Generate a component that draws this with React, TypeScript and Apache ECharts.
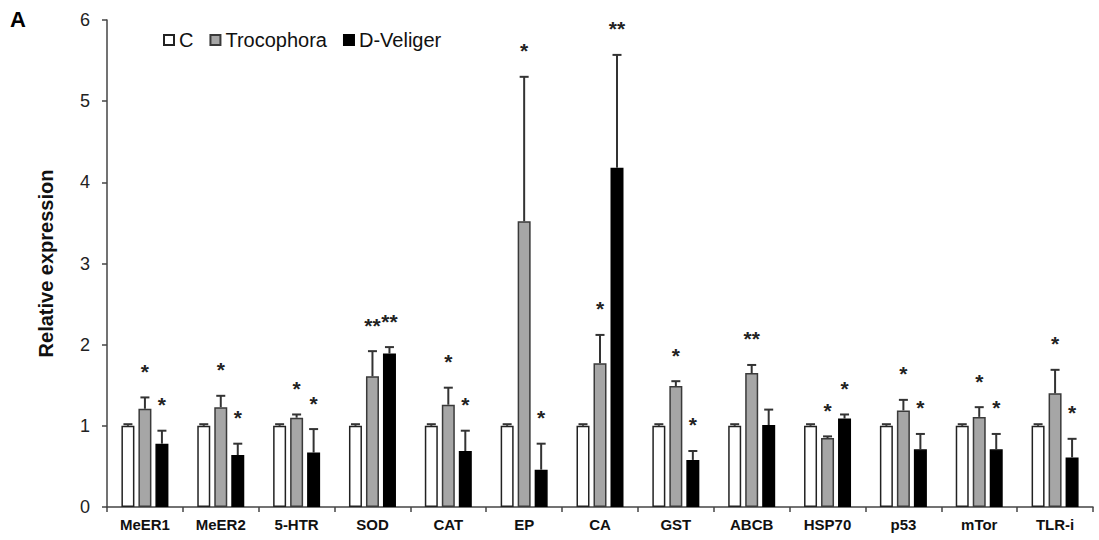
import React, { useEffect, useRef } from "react";
import * as echarts from "echarts";

const categories = ["MeER1", "MeER2", "5-HTR", "SOD", "CAT", "EP", "CA", "GST", "ABCB", "HSP70", "p53", "mTor", "TLR-i"];
const seriesNames = ["C", "Trocophora", "D-Veliger"];
const cMean = [1, 1, 1, 1, 1, 1, 1, 1, 1, 1, 1, 1, 1];
const cSd = [0.02, 0.02, 0.02, 0.02, 0.02, 0.02, 0.02, 0.02, 0.02, 0.02, 0.02, 0.02, 0.02];
const trocoMean = [1.21, 1.23, 1.1, 1.61, 1.26, 3.52, 1.77, 1.49, 1.65, 0.85, 1.19, 1.11, 1.4];
const trocoSd = [0.14, 0.14, 0.04, 0.31, 0.21, 1.78, 0.35, 0.06, 0.1, 0.02, 0.13, 0.12, 0.29];
const velMean = [0.78, 0.64, 0.67, 1.89, 0.69, 0.46, 4.18, 0.58, 1.01, 1.09, 0.71, 0.71, 0.61];
const velSd = [0.16, 0.14, 0.29, 0.08, 0.25, 0.32, 1.39, 0.11, 0.19, 0.05, 0.19, 0.19, 0.23];
const cStars = ["", "", "", "", "", "", "", "", "", "", "", "", ""];
const trocoStars = ["*", "*", "*", "**", "*", "*", "*", "*", "**", "*", "*", "*", "*"];
const velStars = ["*", "*", "*", "**", "*", "*", "**", "*", "", "*", "*", "*", "*"];
const yTicks = [0, 1, 2, 3, 4, 5, 6];

const FONT = "Liberation Sans, Arial, sans-serif";
const BAR_W = 13;
const BAR_GAP = 4;

export default function App() {
  const ref = useRef<HTMLDivElement>(null);
  useEffect(() => {
    if (!ref.current) return;
    const chart = echarts.init(ref.current, null, { renderer: "svg" });
    const means = [cMean, trocoMean, velMean];
    const sds = [cSd, trocoSd, velSd];
    const stars = [cStars, trocoStars, velStars];
    const errData: number[][] = [];
    const errStars: string[] = [];
    for (let s = 0; s < 3; s++) {
      for (let i = 0; i < categories.length; i++) {
        errData.push([i, s, means[s][i], means[s][i] + sds[s][i]]);
        errStars.push(stars[s][i]);
      }
    }
    const fills = ["#ffffff", "#a6a6a6", "#000000"];
    const borders = ["#222222", "#3a3a3a", "#000000"];
    chart.setOption({
      animation: false,
      textStyle: { fontFamily: FONT },
      grid: { left: 107, right: 6, top: 20, bottom: 33 },
      legend: {
        left: 158,
        top: 25,
        itemWidth: 10,
        itemHeight: 10,
        itemGap: 16,
        icon: "rect",
        textStyle: { fontSize: 20, color: "#111", fontFamily: FONT },
        data: seriesNames,
      },
      graphic: [
        {
          type: "text",
          left: 10,
          top: 8,
          style: { text: "A", font: `bold 22px ${FONT}`, fill: "#000" },
        },
      ],
      xAxis: {
        type: "category",
        data: categories,
        axisLine: { lineStyle: { color: "#444", width: 1.5 } },
        axisTick: { show: true, inside: false, length: 5, alignWithLabel: false, lineStyle: { color: "#444", width: 1.5 } },
        axisLabel: { fontSize: 15, fontWeight: "bold", color: "#111", margin: 10, interval: 0 },
      },
      yAxis: {
        type: "value",
        min: 0,
        max: 6,
        interval: 1,
        name: "Relative expression",
        nameLocation: "middle",
        nameGap: 51,
        nameTextStyle: { fontSize: 20, fontWeight: "bold", color: "#111" },
        axisLine: { show: true, lineStyle: { color: "#444", width: 1.5 } },
        axisTick: { show: true, length: 5, lineStyle: { color: "#444", width: 1.5 } },
        axisLabel: { fontSize: 18, color: "#222", margin: 17, formatter: (v: number) => (yTicks.includes(v) ? String(v) : "") },
        splitLine: { show: false },
      },
      series: [
        ...[0, 1, 2].map((s) => ({
          name: seriesNames[s],
          type: "bar",
          data: means[s],
          barWidth: BAR_W,
          barGap: `${(BAR_GAP / BAR_W) * 100}%`,
          itemStyle: { color: fills[s], borderColor: borders[s], borderWidth: 1.5 },
          z: 2,
        })),
        {
          type: "custom",
          data: errData,
          z: 5,
          silent: true,
          renderItem: (params: any, api: any) => {
            const ci = api.value(0);
            const si = api.value(1);
            const mean = api.value(2);
            const top = api.value(3);
            const b = api.coord([ci, mean]);
            const t = api.coord([ci, top]);
            const x = b[0] + (si - 1) * (BAR_W + BAR_GAP);
            const star = errStars[params.dataIndex];
            const children: any[] = [
              { type: "line", shape: { x1: x, y1: b[1], x2: x, y2: t[1] }, style: { stroke: "#333", lineWidth: 2 } },
              { type: "line", shape: { x1: x - 4.5, y1: t[1], x2: x + 4.5, y2: t[1] }, style: { stroke: "#333", lineWidth: 2 } },
            ];
            if (star) {
              children.push({
                type: "text",
                x: x,
                y: t[1] - 26,
                style: { text: star, font: `bold 21px ${FONT}`, fill: "#222", align: "center", verticalAlign: "middle" },
              });
            }
            return { type: "group", children };
          },
        },
      ],
    });
    return () => chart.dispose();
  }, []);
  return <div ref={ref} style={{ position: "absolute", left: 0, top: 0, width: 1099, height: 540 }} />;
}
